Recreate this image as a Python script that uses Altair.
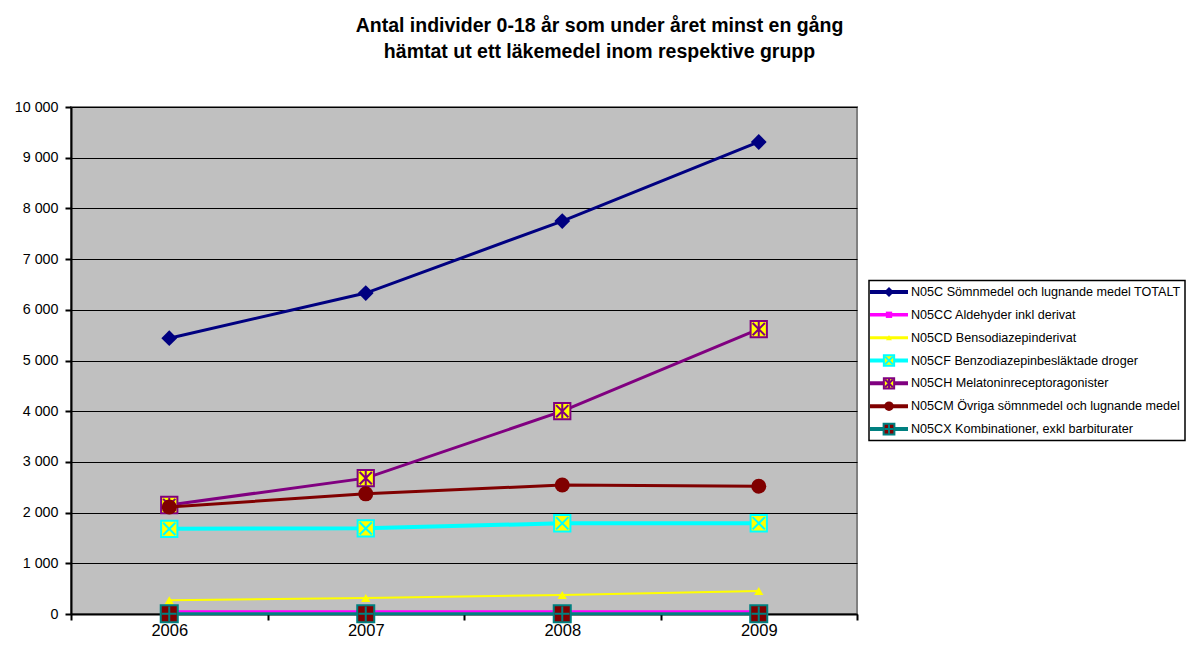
import altair as alt
import pandas as pd

years = ["2006", "2007", "2008", "2009"]
series = [
    "N05C Sömnmedel och lugnande medel TOTALT",
    "N05CC Aldehyder inkl derivat",
    "N05CD Bensodiazepinderivat",
    "N05CF Benzodiazepinbesläktade droger",
    "N05CH Melatoninreceptoragonister",
    "N05CM Övriga sömnmedel och lugnande medel",
    "N05CX Kombinationer, exkl barbiturater",
]
v_totalt = [5440, 6330, 7750, 9310]
v_cc = [50, 50, 50, 50]
v_cd = [270, 315, 375, 455]
v_cf = [1680, 1690, 1790, 1790]
v_ch = [2150, 2680, 4000, 5620]
v_cm = [2110, 2370, 2545, 2520]
v_cx = [5, 5, 5, 5]
all_values = [v_totalt, v_cc, v_cd, v_cf, v_ch, v_cm, v_cx]

title_lines = [
    "Antal individer 0-18 år som under året minst en gång",
    "hämtat ut ett läkemedel inom respektive grupp",
]

FONT = "Liberation Sans"
X_PATH = "M-0.75,-0.75L0.75,0.75M-0.75,0.75L0.75,-0.75"
STAR_PATH = "M-0.75,-0.75L0.75,0.75M-0.75,0.75L0.75,-0.75M0,-0.9L0,0.9"
PLUS_PATH = "M-0.85,0L0.85,0M0,-0.85L0,0.85"

# style per series: line color, line width, list of marker specs
styles = [
    ("#000080", 3, [dict(shape="diamond", size=250, filled=True, color="#000080")]),
    ("#FF00FF", 2.5, [dict(shape="square", size=100, filled=True, color="#FF00FF")]),
    ("#FFFF00", 2, [dict(shape="triangle-up", size=85, filled=True, color="#FFFF00")]),
    ("#00FFFF", 4, [dict(shape="square", size=265, filled=True, fill="#FFFF00", stroke="#00FFFF", strokeWidth=2),
                    dict(shape=X_PATH, size=265, filled=False, stroke="#00FFFF", strokeWidth=2)]),
    ("#800080", 3, [dict(shape="square", size=265, filled=True, fill="#FFFF00", stroke="#800080", strokeWidth=2),
                    dict(shape=STAR_PATH, size=265, filled=False, stroke="#800080", strokeWidth=2)]),
    ("#800000", 3, [dict(shape="circle", size=225, filled=True, color="#800000")]),
    ("#008080", 3, [dict(shape="square", size=290, filled=True, fill="#800000", stroke="#008080", strokeWidth=2),
                    dict(shape=PLUS_PATH, size=290, filled=False, stroke="#008080", strokeWidth=2)]),
]

rows = []
for s, vals in zip(series, all_values):
    for y, v in zip(years, vals):
        rows.append({"year": y, "series": s, "value": v})
df = pd.DataFrame(rows)

x_enc = alt.X(
    "year:O",
    title=None,
    scale=alt.Scale(type="band", paddingInner=0, paddingOuter=0),
    bandPosition=0.5,
    axis=alt.Axis(
        tickBand="extent", labelAngle=0, labelFont=FONT, labelFontSize=16.5,
        labelColor="black", tickColor="black", tickSize=6, tickWidth=2,
        domainColor="black", domainWidth=2, labelPadding=2, grid=False,
    ),
)
y_enc = alt.Y(
    "value:Q",
    title=None,
    scale=alt.Scale(domain=[0, 10000], nice=False),
    axis=alt.Axis(
        values=list(range(0, 10001, 1000)),
        labelExpr="replace(format(datum.value, ','), ',', ' ')",
        labelFont=FONT, labelFontSize=14.3, labelColor="black",
        tickColor="black", tickSize=6, tickWidth=2, labelPadding=7,
        domainColor="black", domainWidth=2,
        grid=True, gridColor="black", gridWidth=1.2,
    ),
)

base = alt.Chart(df)
layers = []
for s, (color, lw, markers) in zip(series, styles):
    sub = base.transform_filter(alt.datum.series == s)
    layers.append(sub.mark_line(color=color, strokeWidth=lw).encode(x=x_enc, y=y_enc))
    for m in markers:
        layers.append(sub.mark_point(opacity=1, **m).encode(x=x_enc, y=y_enc))

main = alt.layer(*layers).properties(
    width=786, height=507,
    view=alt.ViewBackground(fill="#C0C0C0", stroke="#808080", strokeWidth=2),
)

# legend panel
leg_df = pd.DataFrame({"series": series})
ly = alt.Y("series:N", sort=series, axis=None, scale=alt.Scale(type="point", padding=0.5))
leg_base = alt.Chart(leg_df)
leg_layers = []
for s, (color, lw, markers) in zip(series, styles):
    sub = leg_base.transform_filter(alt.datum.series == s)
    leg_layers.append(sub.mark_rule(color=color, strokeWidth=min(lw + 1, 4)).encode(
        x=alt.value(1), x2=alt.value(39), y=ly))
    for m in markers:
        mm = dict(m)
        mm["size"] = m["size"] * 0.4
        leg_layers.append(sub.mark_point(opacity=1, **mm).encode(x=alt.value(20), y=ly))
leg_layers.append(leg_base.mark_text(align="left", baseline="middle", font=FONT,
                                     fontSize=12.6, color="black").encode(
    x=alt.value(42), y=ly, text="series:N"))
legend = alt.layer(*leg_layers).properties(
    width=316, height=160,
    view=alt.ViewBackground(fill="white", stroke="black", strokeWidth=1.5),
)

chart = alt.hconcat(main, legend, spacing=12, center=True, bounds="flush").properties(
    title=alt.TitleParams(
        text=title_lines, font=FONT, fontSize=19.5, fontWeight="bold", color="black",
        anchor="middle", lineHeight=26, offset=37,
    ),
).configure(padding={"left": 5, "top": 7, "right": 0, "bottom": 0}).configure_view(continuousWidth=300)

chart.save("out.html", embed_options={"renderer": "svg", "actions": False})
